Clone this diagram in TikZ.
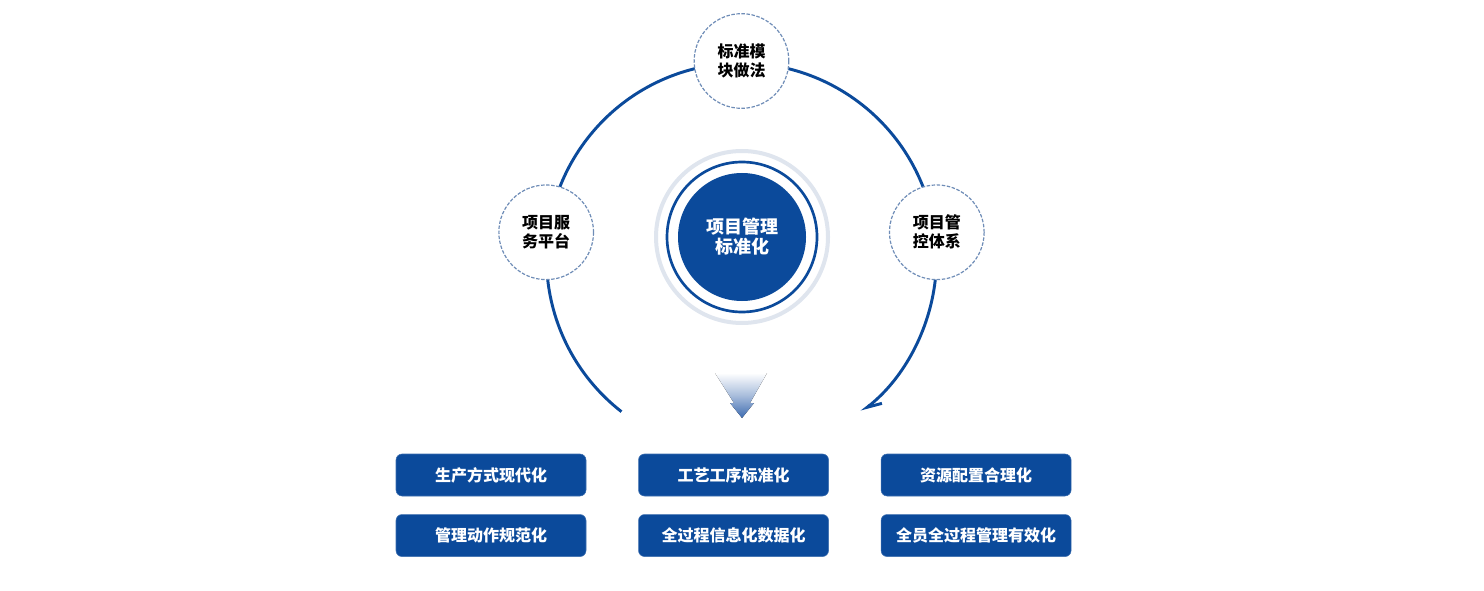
\documentclass[tikz,border=0pt]{standalone}
\usepackage{fontspec}
\newfontfamily\cjk{Noto Sans CJK SC}
\usetikzlibrary{arrows.meta,positioning}

\definecolor{navy}{HTML}{0B4A9B}
\definecolor{dashblue}{HTML}{6F8DB7}
\definecolor{faint}{HTML}{DFE5EE}
\definecolor{fade}{HTML}{3D6BB0}

\begin{document}
\begin{tikzpicture}[
  x=0.75pt, y=0.75pt,
  node distance=13.5pt and 39pt,
  every node/.style={align=center, font=\cjk\bfseries},
  hub/.style={circle, fill=navy, text=white, minimum size=96pt, inner sep=0pt,
              font=\cjk\bfseries\fontsize{13.5pt}{15pt}\selectfont},
  spoke/.style={circle, draw=dashblue, fill=white, line width=0.9pt,
                dash pattern=on 2.6pt off 1.2pt, minimum size=71pt, inner sep=0pt,
                font=\cjk\bfseries\fontsize{12pt}{14.3pt}\selectfont},
  task/.style={rectangle, rounded corners=4.5pt, fill=navy, draw=navy!80!white,
               text=white, minimum width=142.5pt, minimum height=31.5pt,
               font=\cjk\bfseries\fontsize{12pt}{14pt}\selectfont},
  ringline/.style={navy, line width=2.2pt}
]
\useasboundingbox (0,0) rectangle (1484,590);
\coordinate (ring) at (741.5,332);

% outer arc with half arrow
\draw[ringline, -{Straight Barb[left, length=10.5pt, width=9pt]}]
  ([shift={(232:195)}]ring) arc[start angle=232, end angle=-52, radius=195];

% centre
\draw[faint, line width=3pt, fill=white] (742,353) circle[radius=86];
\node[hub] (core) at (742,353) {项目管理\\标准化};
\draw[navy, line width=2pt] (core.center) circle[radius=75];

% nodes on the ring
\node[spoke] (mould) at ([shift={(90:197)}]ring) {标准模\\块做法};
\node[spoke] (serve) at ([shift={(172.5:197)}]ring) {项目服\\务平台};
\node[spoke] (ctrl) at ([shift={(7.5:197)}]ring) {项目管\\控体系};

% fading down arrow
\fill[top color=white, bottom color=fade, middle color=fade!45!white]
  (715,217) -- (767,217) -- (750,187) -- (754,187) -- (742,172)
  -- (730,187) -- (734,187) -- cycle;

% result boxes
\node[task] (prod) at (491,115) {生产方式现代化};
\node[task, right=of prod] (craft) {工艺工序标准化};
\node[task, right=of craft] (alloc) {资源配置合理化};
\node[task, below=of prod] (mgmt) {管理动作规范化};
\node[task, below=of craft] (info) {全过程信息化数据化};
\node[task, below=of alloc] (staff) {全员全过程管理有效化};
\end{tikzpicture}
\end{document}
